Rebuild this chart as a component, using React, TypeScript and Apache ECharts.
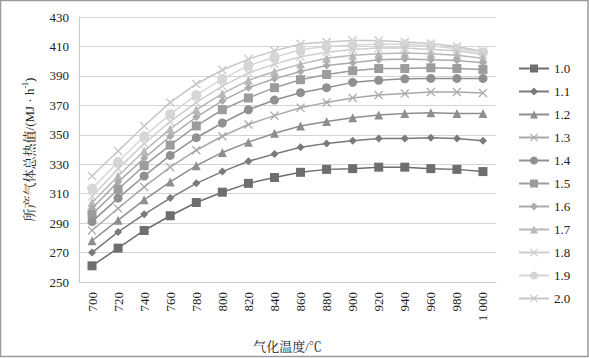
import React, { useEffect, useRef } from "react";
import * as echarts from "echarts";

const temps = ["700", "720", "740", "760", "780", "800", "820", "840", "860", "880", "900", "920", "940", "960", "980", "1 000"];
const seriesNames = ["1.0", "1.1", "1.2", "1.3", "1.4", "1.5", "1.6", "1.7", "1.8", "1.9", "2.0"];

const s10 = [261, 273, 285, 295, 304, 311, 317, 321, 324.5, 326.5, 327, 328, 328, 327, 326.5, 325];
const s11 = [270, 284, 296, 307, 317, 325, 332, 337, 341.5, 344, 346, 347.5, 347.5, 348, 347.5, 346];
const s12 = [278, 292, 305.8, 318, 329, 338, 345, 351, 356, 359, 361.6, 363.5, 364.5, 365, 364.5, 364.5];
const s13 = [285, 300, 314.6, 328, 339.5, 349, 357, 363, 368.4, 372, 375, 377, 378, 379, 379, 378.4];
const s14 = [291, 307, 322, 336, 348, 358, 367, 373.6, 378.6, 382, 385.6, 387, 388, 388.3, 388.3, 388.3];
const s15 = [296, 313, 329, 343, 356, 367, 375, 382, 387.4, 391, 393.5, 395, 395, 395.5, 395, 394.4];
const s16 = [300, 318, 334, 349, 362, 373, 382, 388, 393, 397, 399, 401, 401.5, 401, 400.5, 399];
const s17 = [304, 322, 339, 354, 367, 378, 387, 393, 398, 402, 404, 405, 405.5, 405, 404, 402];
const s18 = [308, 327, 344, 359, 372, 383, 392, 398, 403, 406, 408, 409, 409, 408, 407, 404.5];
const s19 = [313.5, 331.5, 349, 364, 377, 388, 397, 402.6, 407.7, 410, 411, 411.5, 411.5, 410.5, 408.5, 406];
const s20 = [322, 339, 356, 372, 384.5, 394, 401.4, 407, 411.6, 413, 414, 414, 413, 412, 410, 406.5];

const yTicks = [250, 270, 290, 310, 330, 350, 370, 390, 410, 430];

const X_PATH = "path://M0,1L1,0L5,4L9,0L10,1L6,5L10,9L9,10L5,6L1,10L0,9L4,5Z";

const values = [s10, s11, s12, s13, s14, s15, s16, s17, s18, s19, s20];
const colors = ["#6e6e6e", "#7a7a7a", "#8e8e8e", "#a8a8a8", "#909090", "#9c9c9c", "#ababab", "#b8b8b8", "#cdcdcd", "#d6d6d6", "#c6c6c6"];
const symbols = ["rect", "diamond", "triangle", X_PATH, "circle", "rect", "diamond", "triangle", X_PATH, "circle", X_PATH];
const sizes = [9, 8, 9, 9, 9, 9, 8, 9, 9, 10, 9];

const SERIF = "'Liberation Serif', 'Noto Serif CJK SC', 'Noto Sans CJK SC', serif";

export default function App() {
  const ref = useRef<HTMLDivElement>(null);
  useEffect(() => {
    document.body.style.margin = "0";
    const chart = echarts.init(ref.current!, null, { renderer: "svg" });
    chart.setOption({
      animation: false,
      backgroundColor: "#fff",
      textStyle: { fontFamily: SERIF },
      graphic: [
        {
          type: "rect",
          shape: { x: 0.5, y: 0.5, width: 587.5, height: 356 },
          style: { fill: "none", stroke: "#9a9a9a", lineWidth: 1.5 },
          silent: true,
        },
      ],
      grid: { left: 79, right: 93, top: 17, bottom: 74 },
      legend: {
        orient: "vertical",
        left: 513,
        top: 57,
        itemWidth: 30,
        itemHeight: 10,
        itemGap: 10,
        data: seriesNames,
        textStyle: { fontFamily: SERIF, fontSize: 13, color: "#222" },
      },
      xAxis: {
        type: "category",
        data: temps,
        boundaryGap: true,
        name: "气化温度/℃",
        nameLocation: "middle",
        nameGap: 58,
        nameTextStyle: { fontFamily: SERIF, fontSize: 13, color: "#222" },
        axisLine: { lineStyle: { color: "#c8c8c8", width: 1 } },
        axisTick: { show: false },
        axisLabel: { rotate: 90, margin: 10, fontSize: 13, color: "#222", fontFamily: SERIF, interval: 0 },
        splitLine: { show: false },
      },
      yAxis: {
        type: "value",
        min: 250,
        max: 430,
        interval: 20,
        name: "所产气体总热值/(MJ · h{sup|-1})",
        nameLocation: "middle",
        nameGap: 42,
        nameTextStyle: {
          fontFamily: SERIF,
          fontSize: 13,
          color: "#222",
          rich: { sup: { fontSize: 8, fontFamily: SERIF, color: "#222", padding: [0, 0, 8, 0] } },
        },
        axisLine: { show: true, lineStyle: { color: "#c8c8c8", width: 1 } },
        axisTick: { show: false },
        axisLabel: {
          fontSize: 13,
          color: "#222",
          fontFamily: SERIF,
          margin: 10,
          formatter: (v: number) => (yTicks.includes(v) ? String(v) : ""),
        },
        splitLine: { show: true, lineStyle: { color: "#d4d4d4", width: 1 } },
      },
      series: seriesNames.map((name, i) => ({
        name,
        type: "line",
        data: values[i],
        symbol: symbols[i],
        symbolSize: sizes[i],
        showAllSymbol: true,
        lineStyle: { color: colors[i], width: 1.5 },
        itemStyle: { color: colors[i] },
        z: 20 - i,
      })),
    });
    return () => chart.dispose();
  }, []);
  return <div ref={ref} style={{ width: 589, height: 358 }} />;
}
